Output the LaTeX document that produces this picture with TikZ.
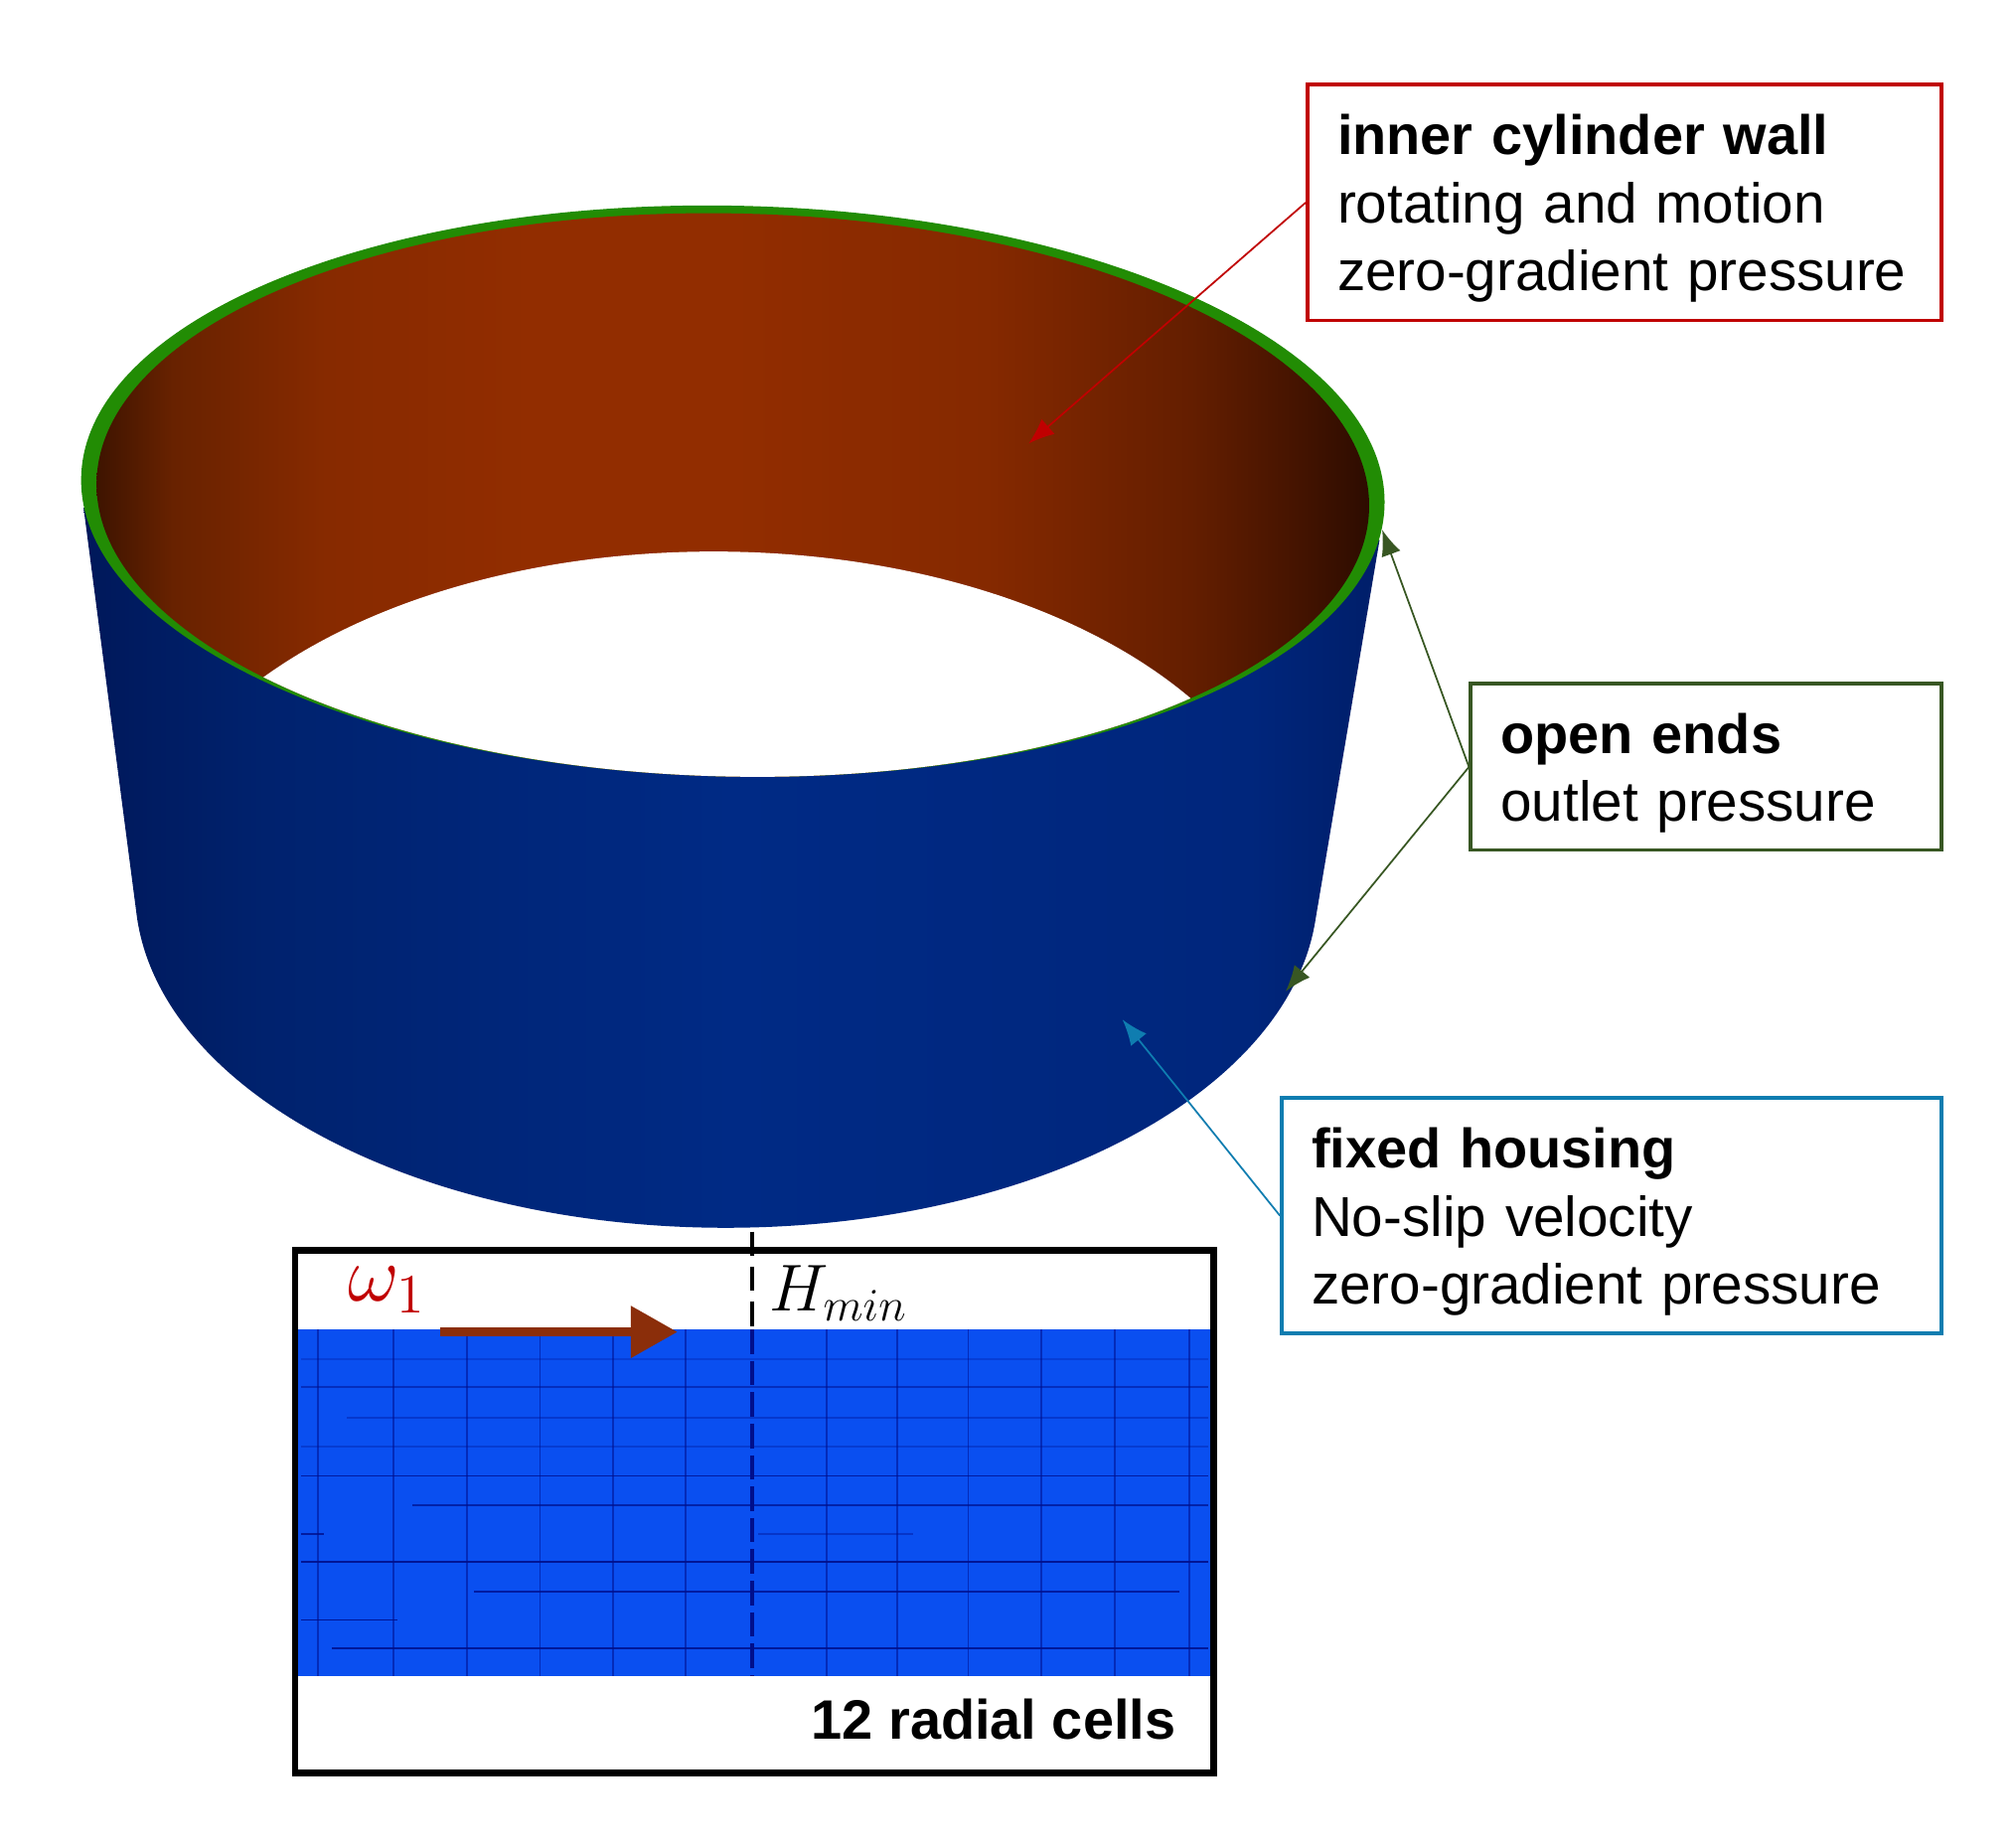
\documentclass[tikz,border=0pt]{standalone}
\usepackage{fix-cm}
\usepackage{amsmath}
\usepackage{fontspec}
\setmainfont{Liberation Sans}
\usetikzlibrary{arrows.meta}
\definecolor{rougeBoite}{HTML}{C00000}
\definecolor{vertBoite}{HTML}{385723}
\definecolor{bleuBoite}{HTML}{0F7DB0}
\definecolor{vertAnneau}{HTML}{228C04}
\definecolor{bleuMaille}{HTML}{0A4FF0}
\definecolor{bleuTrait}{HTML}{000F8C}
\definecolor{brunFleche}{HTML}{8B2E0A}
\pgfdeclarehorizontalshading{paroiBrune}{100bp}{color(0bp)=(black);
  color(25bp)=(rgb,255:red,62;green,20;blue,0);
  color(28bp)=(rgb,255:red,104;green,34;blue,0);
  color(34bp)=(rgb,255:red,135;green,42;blue,0);
  color(42bp)=(rgb,255:red,146;green,45;blue,0);
  color(50bp)=(rgb,255:red,146;green,45;blue,0);
  color(60bp)=(rgb,255:red,133;green,41;blue,0);
  color(68bp)=(rgb,255:red,100;green,30;blue,0);
  color(72bp)=(rgb,255:red,70;green,20;blue,0);
  color(75bp)=(rgb,255:red,45;green,12;blue,0);
  color(100bp)=(black)}
\pgfdeclarehorizontalshading{carterBleu}{100bp}{color(0bp)=(black);
  color(25bp)=(rgb,255:red,0;green,24;blue,90);
  color(32bp)=(rgb,255:red,0;green,34;blue,110);
  color(50bp)=(rgb,255:red,0;green,42;blue,133);
  color(70bp)=(rgb,255:red,0;green,38;blue,124);
  color(75bp)=(rgb,255:red,0;green,30;blue,105);
  color(100bp)=(black)}
\newcommand{\titre}[1]{\rule{0pt}{15pt}{\fontsize{15.9}{19.5}\selectfont\bfseries #1}}
\tikzset{
  boite/.style={draw, line width=1.1pt, anchor=north west, align=left, fill=white,
    inner xsep=0.3cm, inner ysep=0pt, font=\fontsize{16.1}{19.5}\selectfont},
  renvoi/.style={line width=0.5pt, -{Latex[length=0.26cm,width=0.2cm]}},
  maille/.style={draw=bleuTrait, line width=0.5pt}
}

\begin{document}
\begin{tikzpicture}[x=0.01294cm, y=-0.01294cm]
    \useasboundingbox (0,0) rectangle (1568,1433);

    % Carter exterieur
    \shade[shading=carterBleu] (65,395) -- (106.3,711.7)
        arc[start angle=175.7, end angle=5.5, x radius=460, y radius=263]
        -- (1073,420) -- cycle;

    % Anneau vert et paroi interieure
    \fill[vertAnneau, rotate around={-1.2:(570,382)}] (570,382) ellipse [x radius=507, y radius=222];
    \begin{scope}
        \clip[rotate around={-1.2:(570,385)}] (570,385) ellipse [x radius=495, y radius=219];
        \shade[shading=paroiBrune] (75,150) rectangle (1065,620);
        \fill[white] (555,692) ellipse [x radius=450, y radius=263];
    \end{scope}

    % Cadre du maillage
    \fill[bleuMaille] (232,1034) rectangle (941,1304);
    \foreach \x in {247,306,363,420,477,533,643,698,753,810,867,925} {
        \draw[maille, opacity=0.55] (\x,1034) -- (\x,1304);
    }
    \foreach \y/\xa/\xb/\op in {1057/234/940/0.25, 1079/234/940/0.5, 1103/270/940/0.35,
        1125/234/940/0.3, 1148/234/940/0.8, 1171/321/940/0.7, 1193/234/252/0.8,
        1193/590/710/0.4, 1215/234/940/0.9, 1238/369/917/0.8, 1260/234/309/0.9,
        1282/258/940/0.85} {
        \draw[maille, opacity=\op] (\xa,\y) -- (\xb,\y);
    }
    \node[draw, line width=1.9pt, minimum width=9.24cm, minimum height=5.26cm,
        anchor=north west, inner sep=0pt] (cadre) at (227,970) {};
    \draw[line width=0.9pt, dash pattern=on 7pt off 3pt] (585,958) -- (585,1034);
    \draw[bleuTrait, line width=0.9pt, dash pattern=on 7pt off 2pt] (585,1034) -- (585,1304);

    % Fleche de rotation
    \coordinate (rotDebut) at (342,1036);
    \coordinate (rotFin) at (527,1036);
    \draw[brunFleche, line width=2.7pt, -{Triangle[length=0.47cm,width=0.5cm]}] (rotDebut) -- (rotFin);

    % Textes du cadre
    \node[rougeBoite, font=\fontsize{22.7}{26}\selectfont] (omega) at (301,1003) {$\omega_1$};
    \node[anchor=base west, inner sep=0pt, font=\fontsize{19}{22}\selectfont] (hmin) at (598,1020) {$H_{min}$};
    \node[anchor=base east, inner sep=0pt, font=\fontsize{15.9}{19.5}\selectfont\bfseries] (cellules) at (915,1353) {12 radial cells};

    % Boites
    \node[boite, draw=rougeBoite, text width=5.78cm, minimum height=2.37cm] (paroi) at (1015.5,64.5)
        {\titre{inner cylinder wall}\\rotating and motion\\zero-gradient pressure};
    \node[boite, draw=vertBoite, text width=4.14cm, minimum height=1.67cm] (ouvert) at (1142.5,530.5)
        {\titre{open ends}\\outlet pressure};
    \node[boite, draw=bleuBoite, text width=6.04cm, minimum height=2.37cm] (carter) at (995.5,852.5)
        {\titre{fixed housing}\\No-slip velocity\\zero-gradient pressure};

    % Renvois
    \coordinate (cibleParoi) at (800,345);
    \coordinate (cibleHaut) at (1075,412);
    \coordinate (cibleBas) at (1000,771);
    \coordinate (cibleCarter) at (873,793);
    \draw[renvoi, rougeBoite] (paroi.west) -- (cibleParoi);
    \draw[renvoi, vertBoite] (ouvert.west) -- (cibleHaut);
    \draw[renvoi, vertBoite] (ouvert.west) -- (cibleBas);
    \draw[renvoi, bleuBoite] (carter.west) -- (cibleCarter);
\end{tikzpicture}
\end{document}
